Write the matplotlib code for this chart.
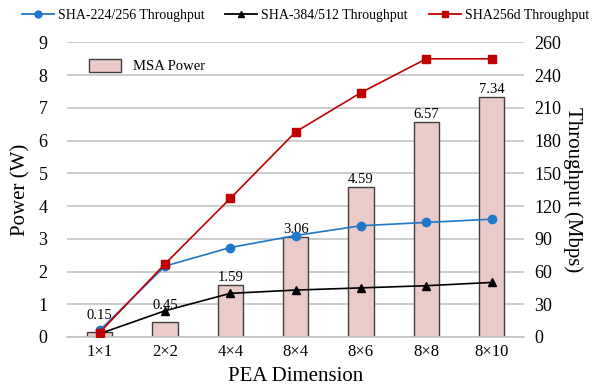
import matplotlib.pyplot as plt
import numpy as np
from matplotlib.lines import Line2D
from matplotlib.patches import Patch

plt.rcParams['font.family'] = ['Liberation Serif', 'DejaVu Serif']

# data
dims = ['1×1', '2×2', '4×4', '8×4', '8×6', '8×8', '8×10']
power = [0.15, 0.45, 1.59, 3.06, 4.59, 6.57, 7.34]
sha256 = [6, 65, 82, 93, 102, 105, 108]
sha512 = [3, 24, 40, 43, 45, 47, 50]
sha256d = [4, 67, 127, 188, 224, 255, 255]
right_ticks = [0, 30, 60, 90, 120, 150, 180, 210, 240, 270]
right_labels = ['0', '30', '60', '90', '120', '150', '180', '210', '240', '260']

x = np.arange(len(dims))

fig = plt.figure(figsize=(5.93, 3.86), dpi=100)
ax = fig.add_axes([0.113, 0.127, 0.771, 0.763])
ax2 = ax.twinx()

# power bars on the left axis
ax.bar(x, power, width=0.39, color='#ebcaca', edgecolor='#404040', linewidth=1.0, zorder=2)
for i, v in enumerate(power):
    extra = 0.3 if i < 2 else 0.0
    ax.text(x[i], v + 0.02 + extra, f'{v:.2f}', ha='center', va='bottom', fontsize=10.5, zorder=5)

ax.set_ylim(0, 9)
ax.set_yticks(range(10))
ax.set_xlim(-0.5, len(dims) - 0.5)
ax.set_xticks(x)
ax.set_xticklabels(dims, fontsize=12)
ax.tick_params(axis='y', labelsize=13, length=0, pad=14)
ax.tick_params(axis='x', length=0, pad=5)
ax.grid(axis='y', color='#c4c4c4', linewidth=1.2, zorder=0)
ax.set_axisbelow(True)
for s in ['top', 'left', 'right']:
    ax.spines[s].set_visible(False)
ax.spines['bottom'].set_color('#c4c4c4')
ax.spines['bottom'].set_linewidth(1.2)
ax.set_ylabel('Power (W)', fontsize=15, labelpad=6)
ax.set_xlabel('PEA Dimension', fontsize=15, labelpad=5)

# throughput lines on the right axis
ax2.plot(x, sha256, color='#1f78c8', marker='o', markersize=6, linewidth=1.2, zorder=4)
ax2.plot(x, sha512, color='black', marker='^', markersize=6, linewidth=1.2, zorder=4)
ax2.plot(x, sha256d, color='#c00000', marker='s', markersize=6, linewidth=1.2, zorder=4)
ax2.set_ylim(0, 270)
ax2.set_yticks(right_ticks)
ax2.set_yticklabels(right_labels)
ax2.tick_params(axis='y', labelsize=13, length=0, pad=7)
for s in ['top', 'left', 'right', 'bottom']:
    ax2.spines[s].set_visible(False)
ax2.set_ylabel('Throughput (Mbps)', fontsize=15, rotation=270, labelpad=16)
ax.set_zorder(ax2.get_zorder() - 1)
ax.patch.set_visible(False)

handles = [
    Line2D([], [], color='#1f78c8', marker='o', markersize=5, linewidth=1.3),
    Line2D([], [], color='black', marker='^', markersize=5, linewidth=1.3),
    Line2D([], [], color='#c00000', marker='s', markersize=5, linewidth=1.3),
]
fig.legend(handles, ['SHA-224/256 Throughput', 'SHA-384/512 Throughput', 'SHA256d Throughput'],
           loc='upper center', bbox_to_anchor=(0.515, 1.01), ncol=3, frameon=False,
           fontsize=10, handlelength=2.3, handletextpad=0.3, columnspacing=1.5)
ax2.legend([Patch(facecolor='#ebcaca', edgecolor='#404040')], ['MSA Power'],
           loc='upper left', bbox_to_anchor=(0.02, 0.99), frameon=False, fontsize=10.5,
           handlelength=2.2, handleheight=1.0)

fig.savefig('out.png', dpi=100)
